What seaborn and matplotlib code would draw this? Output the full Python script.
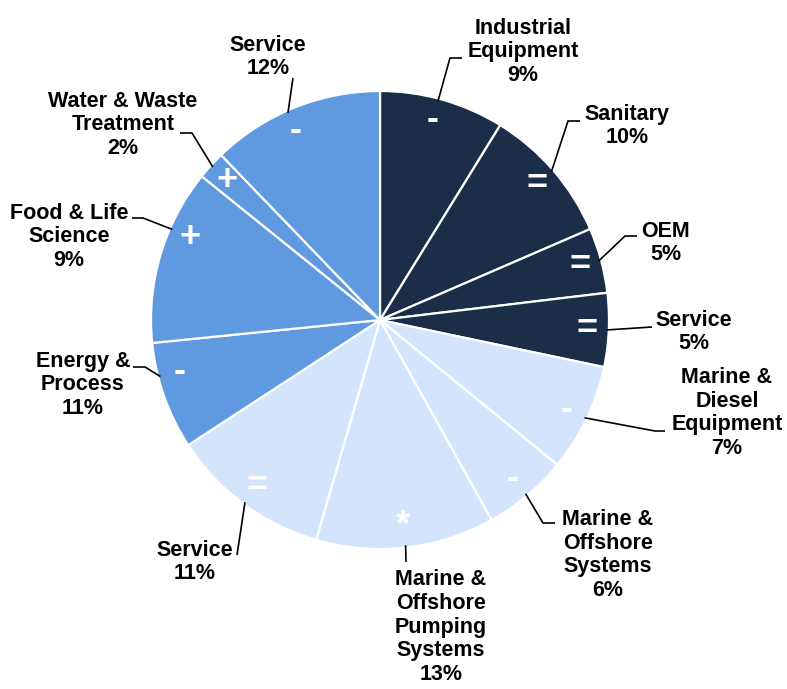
import numpy as np
import matplotlib
matplotlib.use("Agg")
import matplotlib.pyplot as plt
import seaborn as sns

# ---- data (clockwise from 12 o'clock) ----
segments = ["Industrial\nEquipment", "Sanitary", "OEM", "Service",
            "Marine &\nDiesel\nEquipment", "Marine &\nOffshore\nSystems",
            "Marine &\nOffshore\nPumping\nSystems", "Service",
            "Energy &\nProcess", "Food & Life\nScience",
            "Water & Waste\nTreatment", "Service"]
label_pct = [9, 10, 5, 5, 7, 6, 13, 11, 11, 9, 2, 12]
# slice sizes as drawn in the picture (%)
slice_share = [8.8, 9.7, 4.6, 5.2, 7.6, 6.0, 12.6, 11.3, 7.6, 12.4, 2.0, 12.2]
trend = ["-", "=", "=", "=", "-", "-", "*", "=", "-", "+", "+", "-"]
group = ["A", "A", "A", "A", "B", "B", "B", "B", "C", "C", "C", "C"]

palette = {"A": "#1A2D49", "B": "#D2E5FC", "C": "#5F99DF"}

# ---- layout (pixel space, origin top-left) ----
W, H = 787, 689
CX, CY, R = 380, 320, 229
label_pos = [(523, 52), (627, 126), (666, 243), (694, 332), (727, 413),
             (608, 555), (441, 627), (195, 562), (83, 385), (69, 237),
             (123, 125), (268, 57)]
leader_pts = [[(450, 58), (462, 58)], [(568, 121), (580, 121)],
              [(625, 236), (637, 236)], [(652, 327)],
              [(655, 431), (665, 431)], [(543, 523), (555, 523)],
              [(406, 562)], [(237, 555)],
              [(145, 367), (133, 367)], [(143, 218), (132, 218)],
              [(192, 133), (180, 133)], [(293, 78)]]
anchor_shift = [-1, 0, 0, 0, 0, 0, 0, 0, 5, 7, 0, -2]

sns.set_theme(style="white")
plt.rcParams["font.family"] = ["Liberation Sans", "DejaVu Sans"]

fig = plt.figure(figsize=(W / 100, H / 100), dpi=100)
ax = fig.add_axes([0, 0, 1, 1])

colors = [palette[g] for g in group]
ax.pie(slice_share, colors=colors, startangle=90, counterclock=False,
       center=(CX, H - CY), radius=R,
       wedgeprops=dict(edgecolor="white", linewidth=1.6, antialiased=True))
ax.set_xlim(0, W)
ax.set_ylim(0, H)
ax.set_aspect("equal")
ax.axis("off")

cum = np.cumsum([0] + slice_share)
total = cum[-1]
for i in range(len(segments)):
    mid = (cum[i] + cum[i + 1]) / 2 / total * 360 + anchor_shift[i]
    th = np.deg2rad(mid)
    # trend symbol inside the wedge
    sx = CX + 0.905 * R * np.sin(th)
    sy = CY - 0.905 * R * np.cos(th)
    ax.text(sx, H - sy, trend[i], color="white", fontsize=26,
            fontweight="bold", ha="center", va="center")
    # leader line from pie edge
    ex = CX + 0.99 * R * np.sin(th)
    ey = CY - 0.99 * R * np.cos(th)
    pts = [(ex, ey)] + leader_pts[i]
    ax.plot([p[0] for p in pts], [H - p[1] for p in pts], color="black",
            lw=1.2, solid_capstyle="butt")
    lx, ly = label_pos[i]
    ax.text(lx, H - ly, f"{segments[i]}\n{label_pct[i]}%", ha="center",
            va="center", fontsize=15.5, fontweight="bold", color="black",
            linespacing=1.17, multialignment="center")

fig.savefig("out.png", dpi=100)
